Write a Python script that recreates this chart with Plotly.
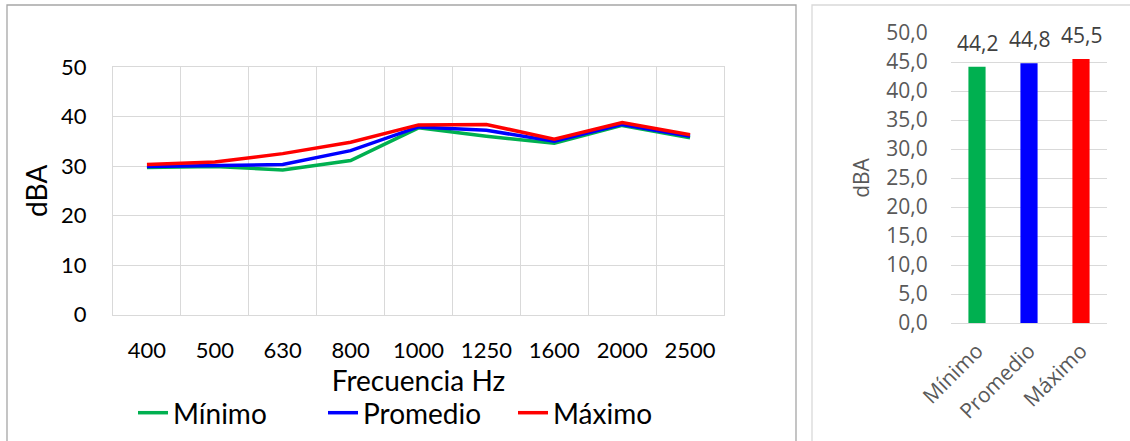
import plotly.graph_objects as go

# Spectrum by one-third-octave band
frecuencias = ["400", "500", "630", "800", "1000", "1250", "1600", "2000", "2500"]
minimo = [29.7, 29.9, 29.2, 31.1, 37.7, 36.0, 34.6, 38.2, 35.7]
promedio = [29.9, 30.1, 30.3, 33.1, 37.9, 37.2, 35.0, 38.4, 36.0]
maximo = [30.3, 30.8, 32.5, 34.8, 38.3, 38.4, 35.4, 38.8, 36.3]

# Overall levels
resumen_nombres = ["Mínimo", "Promedio", "Máximo"]
resumen_valores = [44.2, 44.8, 45.5]

colores = ["#00b050", "#0000ff", "#ff0000"]
W, H = 1130, 441


def px_x(v):
    return v / W


def px_y(v):
    return 1 - v / H


fig = go.Figure()

for nombre, serie, color in zip(resumen_nombres, [minimo, promedio, maximo], colores):
    fig.add_trace(go.Scatter(
        x=frecuencias, y=serie, name=nombre, mode="lines",
        line=dict(color=color, width=3.5),
        xaxis="x", yaxis="y",
    ))

fig.add_trace(go.Bar(
    x=resumen_nombres, y=resumen_valores, marker=dict(color=colores, line_width=0),
    width=0.33, showlegend=False, xaxis="x2", yaxis="y2",
))

right_font = dict(family="Open Sans", size=21, color="#595959")

# Value labels above the bars
for nombre, valor in zip(resumen_nombres, resumen_valores):
    fig.add_annotation(
        x=nombre, y=valor, xref="x2", yref="y2",
        text=f"{valor:.1f}".replace(".", ","), showarrow=False,
        yanchor="middle", yshift=24,
        font=dict(family="Open Sans", size=21, color="#404040"),
    )

grid = "#d9d9d9"
left_font = dict(family="Lato", size=22, color="#000000")

fig.update_layout(
    width=W, height=H,
    margin=dict(l=0, r=0, t=0, b=0),
    paper_bgcolor="white", plot_bgcolor="white",
    separators=",.",
    showlegend=True,
    legend=dict(
        orientation="h", x=px_x(133), xanchor="left", y=px_y(413), yanchor="middle",
        font=dict(family="Lato", size=28, color="#000000"),
        entrywidth=145, entrywidthmode="pixels", bgcolor="rgba(0,0,0,0)",
        tracegroupgap=0,
    ),
    xaxis=dict(
        domain=[px_x(113), px_x(724)], type="category", tickson="boundaries",
        range=[-0.5, len(frecuencias) - 0.5],
        showgrid=True, gridcolor=grid, gridwidth=1,
        showline=True, linecolor=grid, linewidth=1, mirror=True,
        ticks="", ticklabelstandoff=16,
        tickfont=left_font, automargin=False, fixedrange=True,
        title=dict(text="Frecuencia Hz", font=dict(family="Lato", size=28, color="#000000"), standoff=4),
    ),
    yaxis=dict(
        domain=[px_y(314.5), px_y(67)], range=[0, 50], dtick=10,
        showgrid=True, gridcolor=grid, gridwidth=1, zeroline=False,
        showline=True, linecolor=grid, linewidth=1, mirror=True,
        ticks="outside", ticklen=21, tickcolor="rgba(0,0,0,0)",
        tickfont=left_font, automargin=False, fixedrange=True,
        title=dict(text="dBA", font=dict(family="Lato", size=28, color="#000000"), standoff=5),
    ),
    xaxis2=dict(
        domain=[px_x(951), px_x(1107)], anchor="y2", type="category",
        showgrid=False, showline=True, linecolor=grid, linewidth=1.3,
        tickangle=-45, tickfont=right_font, ticks="outside", ticklen=6,
        tickcolor="rgba(0,0,0,0)", automargin=False, fixedrange=True,
    ),
    yaxis2=dict(
        domain=[px_y(323), px_y(33)], anchor="x2", range=[0, 50], dtick=5,
        tickformat=".1f", showgrid=True, gridcolor=grid, gridwidth=1.3,
        zeroline=True, zerolinecolor=grid, zerolinewidth=1.3,
        ticks="outside", ticklen=18, tickcolor="rgba(0,0,0,0)",
        tickfont=right_font, automargin=False, fixedrange=True,
        title=dict(text="dBA", font=dict(family="Open Sans", size=21, color="#595959"), standoff=10),
    ),
    shapes=[
        dict(type="rect", xref="paper", yref="paper",
             x0=px_x(7), x1=px_x(796), y0=-0.1, y1=px_y(5),
             line=dict(color="#a6a6a6", width=1.3), fillcolor="rgba(0,0,0,0)", layer="below"),
        dict(type="rect", xref="paper", yref="paper",
             x0=px_x(812), x1=1.1, y0=-0.1, y1=px_y(5),
             line=dict(color="#d9d9d9", width=1.3), fillcolor="rgba(0,0,0,0)", layer="below"),
    ],
)

fig.write_html("out.html")
